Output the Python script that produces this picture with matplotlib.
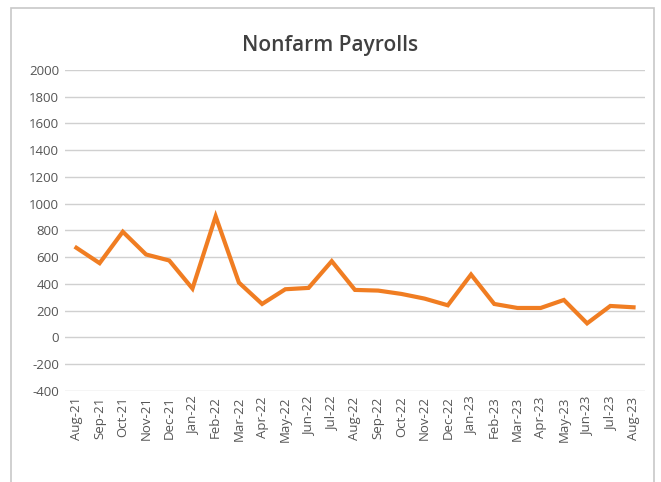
import matplotlib
matplotlib.use("Agg")
import matplotlib.pyplot as plt
from matplotlib.patches import Rectangle

months = ["Aug-21", "Sep-21", "Oct-21", "Nov-21", "Dec-21", "Jan-22", "Feb-22",
          "Mar-22", "Apr-22", "May-22", "Jun-22", "Jul-22", "Aug-22", "Sep-22",
          "Oct-22", "Nov-22", "Dec-22", "Jan-23", "Feb-23", "Mar-23", "Apr-23",
          "May-23", "Jun-23", "Jul-23", "Aug-23"]
payrolls = [670, 555, 790, 620, 575, 365, 905, 410, 250, 360, 370, 570, 355,
            350, 325, 290, 240, 470, 250, 220, 220, 280, 105, 235, 225]
yticks = list(range(-400, 2001, 200))

plt.rcParams['font.family'] = ['Open Sans', 'DejaVu Sans']

fig = plt.figure(figsize=(6.61, 4.82), dpi=100)
# outer chart frame, bottom edge runs off the image
fig.patches.append(Rectangle((0.017, -0.05), 0.973, 1.033, transform=fig.transFigure,
                             fill=False, edgecolor="#c8c8c8", linewidth=1.2))
ax = fig.add_axes([0.098, 0.189, 0.878, 0.666])

x = range(len(months))
ax.plot(x, payrolls, color="#f07d22", linewidth=3, solid_joinstyle="miter")

ax.set_xlim(-0.5, len(months) - 0.5)
ax.set_ylim(-400, 2000)
ax.set_yticks(yticks)
ax.set_yticklabels([str(v) for v in yticks], fontsize=9.5, color="#555555")
ax.set_xticks(list(x))
ax.set_xticklabels(months, rotation=90, fontsize=9.5, color="#555555")
ax.tick_params(length=0, pad=4)
ax.grid(axis="y", color="#d0d0d0", linewidth=1)
ax.set_axisbelow(True)
for s in ax.spines.values():
    s.set_visible(False)

fig.text(0.5, 0.905, "Nonfarm Payrolls", ha="center", va="center",
         fontsize=15, fontweight="semibold", color="#404040")

fig.savefig("out.png", dpi=100)
